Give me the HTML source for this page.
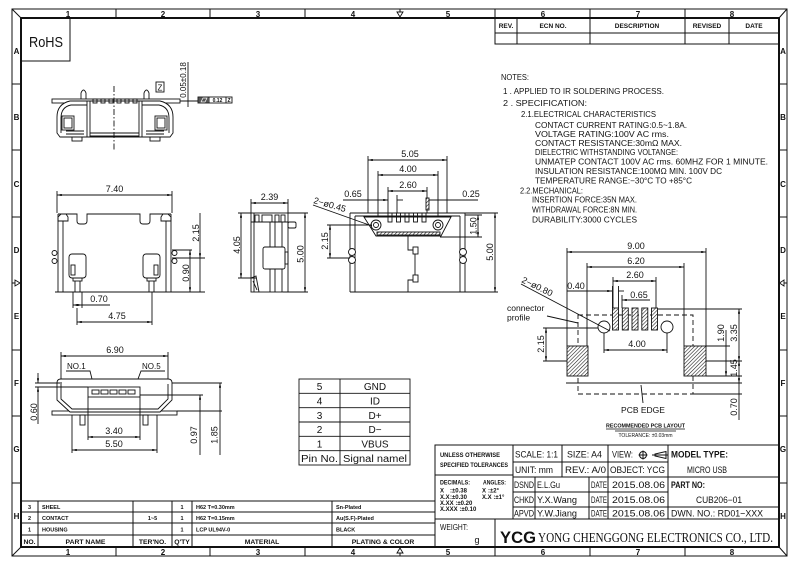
<!DOCTYPE html>
<html><head><meta charset="utf-8"><style>
html,body{margin:0;padding:0;background:#fff;}
svg{display:block;}
text{font-family:"Liberation Sans",sans-serif;fill:#111;}
.b{font-weight:bold;}
.m{font-family:"Liberation Mono",monospace;font-weight:bold;}
.s{font-family:"Liberation Serif",serif;}
</style></head><body>
<svg width="800" height="565" viewBox="0 0 800 565" xmlns="http://www.w3.org/2000/svg">
<defs>
<marker id="ar" viewBox="0 0 8 4" refX="8" refY="2" markerWidth="5" markerHeight="2.4" orient="auto-start-reverse" markerUnits="userSpaceOnUse"><path d="M0,0L8,2L0,4z" fill="#111"/></marker>
<pattern id="h" width="2.6" height="2.6" patternUnits="userSpaceOnUse" patternTransform="rotate(45)"><rect width="2.6" height="2.6" fill="#fff"/><line x1="0" y1="0" x2="0" y2="2.6" stroke="#111" stroke-width="1.1"/></pattern>
</defs>
<rect width="800" height="565" fill="#fff"/>

<!-- FRAME -->
<g fill="none" stroke="#111">
<rect x="12" y="9" width="775" height="547" stroke-width="1"/>
<rect x="21" y="18" width="758" height="529" stroke-width="2"/>
<path stroke-width="1" d="M12 9L21 18M787 9L779 18M12 556L21 547M787 556L779 547
M116 9V18M210 9V18M305 9V18M495 9V18M590 9V18M685 9V18
M116 547V556M210 547V556M305 547V556M495 547V556M590 547V556M685 547V556
M12 84H21M12 150H21M12 217H21M12 350H21M12 416H21M12 483H21
M779 84H787M779 150H787M779 217H787M779 350H787M779 416H787M779 483H787
M12 283H15M784 283H787M400 9V12M400 553V556"/>
<path stroke-width="0.9" d="M15 280L20 283L15 286Z M784 280L779.5 283L784 286Z M397 12L400 17L403 12Z M397 553L400 548L403 553Z"/>
</g>
<g class="b" font-size="8" text-anchor="middle">
<text x="68" y="17">1</text><text x="163" y="17">2</text><text x="258" y="17">3</text><text x="353" y="17">4</text>
<text x="448" y="17">5</text><text x="543" y="17">6</text><text x="638" y="17">7</text><text x="732" y="17">8</text>
<text x="68" y="555">1</text><text x="163" y="555">2</text><text x="258" y="555">3</text><text x="353" y="555">4</text>
<text x="448" y="555">5</text><text x="543" y="555">6</text><text x="638" y="555">7</text><text x="732" y="555">8</text>
<text x="16.5" y="54">A</text><text x="16.5" y="120">B</text><text x="16.5" y="187">C</text><text x="16.5" y="253">D</text>
<text x="16.5" y="319">E</text><text x="16.5" y="386">F</text><text x="16.5" y="452">G</text><text x="16.5" y="519">H</text>
<text x="783" y="54">A</text><text x="783" y="120">B</text><text x="783" y="187">C</text><text x="783" y="253">D</text>
<text x="783" y="319">E</text><text x="783" y="386">F</text><text x="783" y="452">G</text><text x="783" y="519">H</text>
</g>

<!-- RoHS -->
<rect x="21" y="18" width="49" height="43" fill="none" stroke="#111" stroke-width="1"/>
<text x="29" y="47" font-size="15" textLength="34" lengthAdjust="spacingAndGlyphs">RoHS</text>

<!-- REVISION TABLE -->
<g fill="none" stroke="#111" stroke-width="1">
<rect x="495" y="18" width="284" height="26"/>
<path d="M495 33H779M517 18V44M590 18V44M685 18V44M729 18V44"/>
</g>
<g class="b" font-size="6.5" text-anchor="middle">
<text x="506" y="28">REV.</text><text x="553" y="28">ECN NO.</text><text x="637" y="28">DESCRIPTION</text>
<text x="707" y="28">REVISED</text><text x="754" y="28">DATE</text>
</g>

<!-- NOTES -->
<g font-size="8" lengthAdjust="spacingAndGlyphs">
<text x="501" y="80" textLength="28" lengthAdjust="spacingAndGlyphs">NOTES:</text>
<text x="503" y="94" textLength="161" lengthAdjust="spacingAndGlyphs">1 . APPLIED TO IR SOLDERING PROCESS.</text>
<text x="503" y="106" textLength="84" lengthAdjust="spacingAndGlyphs">2 . SPECIFICATION:</text>
<text x="521" y="117" textLength="135" lengthAdjust="spacingAndGlyphs">2.1.ELECTRICAL CHARACTERISTICS</text>
<text x="535" y="128" textLength="152" lengthAdjust="spacingAndGlyphs">CONTACT CURRENT RATING:0.5~1.8A.</text>
<text x="535" y="137" textLength="134" lengthAdjust="spacingAndGlyphs">VOLTAGE RATING:100V AC rms.</text>
<text x="535" y="146" textLength="147" lengthAdjust="spacingAndGlyphs">CONTACT RESISTANCE:30mΩ MAX.</text>
<text x="535" y="155" textLength="143" lengthAdjust="spacingAndGlyphs">DIELECTRIC WITHSTANDING VOLTANGE:</text>
<text x="535" y="164.5" textLength="233" lengthAdjust="spacingAndGlyphs">UNMATEP CONTACT 100V AC rms. 60MHZ FOR 1 MINUTE.</text>
<text x="535" y="174" textLength="187" lengthAdjust="spacingAndGlyphs">INSULATION RESISTANCE:100MΩ MIN. 100V DC</text>
<text x="535" y="183.5" textLength="157" lengthAdjust="spacingAndGlyphs">TEMPERATURE RANGE:−30°C TO +85°C</text>
<text x="520" y="193.5" textLength="63" lengthAdjust="spacingAndGlyphs">2.2.MECHANICAL:</text>
<text x="532" y="202.5" textLength="105" lengthAdjust="spacingAndGlyphs">INSERTION FORCE:35N MAX.</text>
<text x="532" y="212.5" textLength="105" lengthAdjust="spacingAndGlyphs">WITHDRAWAL FORCE:8N MIN.</text>
<text x="532" y="222.5" textLength="105" lengthAdjust="spacingAndGlyphs">DURABILITY:3000 CYCLES</text>
</g>

<!-- TOP-LEFT FRONT VIEW -->
<g fill="none" stroke="#111" stroke-width="0.9">
<rect x="52" y="99" width="128" height="4"/>
<path d="M180 101H198"/>
<path d="M60 137L57 133V117Q57 104 70 101H160Q173 104 173 117V133L170 137Z" fill="#fff"/>
<path d="M61 133V118Q61 107 71 105H87M142 105H159Q169 107 169 118V133"/>
<path d="M87 101V137M90 101V137M139 101V137M142 101V137M90 133H139M90 136H139"/>
<rect x="62" y="116" width="12" height="14"/><rect x="64" y="118" width="8" height="10"/>
<rect x="155" y="116" width="12" height="14"/><rect x="157" y="118" width="8" height="10"/>
<rect x="72" y="137" width="10" height="4"/><rect x="150" y="137" width="10" height="4"/>
<path d="M66 131H84M146 131H164M66 134H84M146 134H164"/>
<path d="M81 99V93Q83.5 87 86 93V99M144 99V93Q146.5 87 149 93V99"/>
<rect x="93" y="99" width="4" height="4"/><rect x="101" y="99" width="4" height="4"/><rect x="109" y="99" width="4" height="4"/>
<rect x="117" y="99" width="4" height="4"/><rect x="125" y="99" width="4" height="4"/><rect x="133" y="99" width="4" height="4"/>
<path d="M114 86V151" stroke-dasharray="6 2 1.5 2"/>
<rect x="156" y="82" width="8" height="10"/>
<path d="M188 62V107"/>
<rect x="198" y="97" width="34" height="6"/>
<path d="M209 97V103M226 97V103"/>
</g>
<rect x="198.5" y="97.5" width="10.5" height="5" fill="#555"/>
<path d="M201 102L203 98H207L205 102Z" fill="none" stroke="#fff" stroke-width="0.7"/>
<text x="160" y="90.5" font-size="8" text-anchor="middle">Z</text>
<text transform="translate(186 80) rotate(-90)" font-size="8" text-anchor="middle">0.05±0.18</text>
<text x="217.5" y="102" font-size="5" class="b" text-anchor="middle">0.12</text>
<text x="229" y="102" font-size="5" class="b" text-anchor="middle">Z</text>

<!-- FRONT VIEW 7.40 -->
<g fill="none" stroke="#111" stroke-width="0.9">
<path d="M57 191V213M172 191V213"/>
<path d="M57 195H172" marker-start="url(#ar)" marker-end="url(#ar)"/>
<path d="M58 214V292M63 221V292M166 221V292M171 214V292M55 292H175"/>
<path d="M58 214H77V221Q77 224 80 224H84Q87 224 87 221V214H140V221Q140 224 143 224H147Q150 224 150 221V214H171"/>
<path d="M58 217L61 214H66L68 217V221H58ZM161 217L163 214H168L171 217V221H161Z"/>
<circle cx="54.5" cy="253" r="2.5"/><circle cx="54.5" cy="261" r="2.5"/>
<circle cx="174.5" cy="253" r="2.5"/><circle cx="174.5" cy="261" r="2.5"/>
<rect x="69" y="254" width="17" height="24" rx="3"/><rect x="71" y="265" width="4" height="10"/>
<rect x="143" y="254" width="17" height="24" rx="3"/><rect x="154" y="265" width="4" height="10"/>
<rect x="73" y="278" width="9" height="3"/><rect x="147" y="278" width="9" height="3"/>
<path d="M75 281V292M80 281V292M149 281V292M154 281V292"/>
<path d="M73 292V308M82 292V308M77 308V325M152 292V325"/>
<path d="M73 305H110"/>
<path d="M73 305H82" marker-start="url(#ar)" marker-end="url(#ar)"/>
<path d="M77 322H152" marker-start="url(#ar)" marker-end="url(#ar)"/>
<path d="M172 258H205M172 250H192M175 292H205"/>
<path d="M200 213V258" marker-end="url(#ar)"/>
<path d="M200 258V292"/>
<path d="M190 250V292" marker-start="url(#ar)" marker-end="url(#ar)"/>
</g>
<g font-size="9" text-anchor="middle">
<text x="114.5" y="192">7.40</text>
<text x="99" y="302">0.70</text>
<text x="117" y="319">4.75</text>
<text transform="translate(199 233) rotate(-90)">2.15</text>
<text transform="translate(189 273) rotate(-90)">0.90</text>
</g>

<!-- SIDE VIEW -->
<g fill="none" stroke="#111" stroke-width="0.9">
<path d="M251 199V213M288 199V213"/>
<path d="M251 203H288" marker-start="url(#ar)" marker-end="url(#ar)"/>
<rect x="251" y="213" width="37" height="79"/>
<path d="M254 213V292M251 222H288"/>
<rect x="255" y="215" width="4" height="7"/><rect x="262" y="215" width="10" height="7"/><rect x="275" y="215" width="4" height="7"/><rect x="281" y="215" width="4" height="7"/>
<rect x="288" y="222" width="8" height="6" rx="1.5"/>
<path d="M270 222V292M275 222V292M282 222V292"/>
<rect x="263" y="247" width="22" height="22" rx="2" fill="#fff"/>
<rect x="285" y="252" width="3" height="12"/>
<path d="M251 278L256 276L259 292M253 281L257 290"/>
<path d="M238 213H251M238 278H256"/>
<path d="M241 213V278" marker-start="url(#ar)" marker-end="url(#ar)"/>
<path d="M288 213H308M283 292H308"/>
<path d="M305 213V292" marker-start="url(#ar)" marker-end="url(#ar)"/>
</g>
<g font-size="9" text-anchor="middle">
<text x="269.5" y="200">2.39</text>
<text transform="translate(240 245) rotate(-90)">4.05</text>
<text transform="translate(303.5 254) rotate(-90)">5.00</text>
</g>

<!-- TOP VIEW CONNECTOR -->
<g fill="none" stroke="#111" stroke-width="0.9">
<path d="M368 156V213M447 156V213M378 171V220M438 171V220M388 187V213M427 187V213M397 195V213"/>
<path d="M368 160H447" marker-start="url(#ar)" marker-end="url(#ar)"/>
<path d="M378 175H438" marker-start="url(#ar)" marker-end="url(#ar)"/>
<path d="M388 191H427" marker-start="url(#ar)" marker-end="url(#ar)"/>
<path d="M343 200H388" marker-end="url(#ar)"/>
<path d="M397 200H403"/>
<path d="M427 200H478"/>
<rect x="426" y="198" width="3" height="12" fill="url(#h)"/>
<path d="M350 213V292M355 216V292M460 216V292M465 213V292M350 213H465M355 216H460M350 292H465"/>
<path d="M364 217H451L441 236H376Z" fill="#fff"/>
<rect x="377" y="232" width="63" height="3" fill="url(#h)"/>
<rect x="388" y="213" width="4" height="9"/><rect x="396.5" y="213" width="4" height="9"/><rect x="405" y="213" width="4" height="9"/><rect x="413.5" y="213" width="4" height="9"/><rect x="422" y="213" width="4" height="9"/>
<circle cx="376" cy="225" r="5" fill="#fff"/><circle cx="376" cy="225" r="2.5"/>
<circle cx="438" cy="225" r="5" fill="#fff"/><circle cx="438" cy="225" r="2.5"/>
<path d="M408 236V250H413M415 254V275M413 280H408V292"/>
<rect x="413" y="247" width="5" height="7"/><rect x="413" y="275" width="5" height="7"/>
<circle cx="352" cy="252" r="3.5" fill="#fff"/><circle cx="352" cy="260" r="3.5" fill="#fff"/>
<circle cx="463" cy="252" r="3.5" fill="#fff"/><circle cx="463" cy="260" r="3.5" fill="#fff"/>
<path d="M313 205L372 226"/>
<path d="M327 225H372M327 258H350"/>
<path d="M330 225V258" marker-start="url(#ar)" marker-end="url(#ar)"/>
<path d="M465 215H482M440 237H482"/>
<path d="M478 215V237" marker-start="url(#ar)" marker-end="url(#ar)"/>
<path d="M465 213H498M465 292H498"/>
<path d="M495 213V292" marker-start="url(#ar)" marker-end="url(#ar)"/>
</g>
<g font-size="9" text-anchor="middle">
<text x="410" y="157">5.05</text>
<text x="408" y="172">4.00</text>
<text x="408" y="188">2.60</text>
<text x="353" y="197">0.65</text>
<text x="471" y="197">0.25</text>
<text transform="translate(313 203) rotate(16)" text-anchor="start">2−ø0.45</text>
<text transform="translate(328 241) rotate(-90)">2.15</text>
<text transform="translate(476.5 226) rotate(-90)">1.50</text>
<text transform="translate(493 252) rotate(-90)">5.00</text>
</g>

<!-- PCB LAYOUT -->
<g fill="none" stroke="#111" stroke-width="0.9">
<path d="M567 248V346M706 248V346M587 263V346M684 263V346M613 277V308M656 277V308"/>
<path d="M567 252H706" marker-start="url(#ar)" marker-end="url(#ar)"/>
<path d="M587 267H684" marker-start="url(#ar)" marker-end="url(#ar)"/>
<path d="M613 281H656" marker-start="url(#ar)" marker-end="url(#ar)"/>
<path d="M567 291H612" marker-end="url(#ar)"/>
<path d="M612.5 286V308M618.5 286V308M622 295V308"/>
<path d="M618.5 291H624"/>
<path d="M628 300H650"/>
<path d="M622 300H628" marker-start="url(#ar)"/>
<rect x="578" y="315" width="115" height="79" stroke-dasharray="5 3"/>
<rect x="567" y="346" width="21" height="30" fill="url(#h)"/>
<rect x="684" y="346" width="22" height="30" fill="url(#h)"/>
<rect x="612.5" y="308" width="6" height="22" fill="url(#h)"/>
<rect x="622.3" y="308" width="6" height="22" fill="url(#h)"/>
<rect x="632" y="308" width="6" height="22" fill="url(#h)"/>
<rect x="641.8" y="308" width="6" height="22" fill="url(#h)"/>
<rect x="651.5" y="308" width="6" height="22" fill="url(#h)"/>
<circle cx="604" cy="327" r="6" fill="#fff"/>
<circle cx="667" cy="327" r="6" fill="#fff"/>
<path d="M521 284L610 331"/>
<path d="M547 316L578 323"/>
<path d="M604 333V353M667 333V353"/>
<path d="M604 350H667" marker-start="url(#ar)" marker-end="url(#ar)"/>
<path d="M543 328H598M543 361H567"/>
<path d="M546 328V361" marker-start="url(#ar)" marker-end="url(#ar)"/>
<path d="M566 383H742"/>
<path d="M658 309H742M706 346H730M706 361H742M706 376H742M693 394H742"/>
<path d="M726 330V376" marker-end="url(#ar)"/>
<path d="M739 309V361" marker-start="url(#ar)" marker-end="url(#ar)"/>
<path d="M739 361V383" marker-start="url(#ar)" marker-end="url(#ar)"/>
<path d="M739 383V420"/>
<path d="M643 403L641 385"/>
<path d="M606 429H685M615 431H676" stroke-width="0.7"/>
</g>
<g font-size="9" text-anchor="middle">
<text x="636" y="249">9.00</text>
<text x="636" y="264">6.20</text>
<text x="635" y="278">2.60</text>
<text x="576" y="289">0.40</text>
<text x="639" y="298">0.65</text>
<text x="637" y="347">4.00</text>
<text transform="translate(521 282) rotate(26)" text-anchor="start">2−ø0.80</text>
<text transform="translate(544 344) rotate(-90)">2.15</text>
<text transform="translate(724 333) rotate(-90)">1.90</text>
<text transform="translate(737 333) rotate(-90)">3.35</text>
<text transform="translate(737 368) rotate(-90)">1.45</text>
<text transform="translate(737 407) rotate(-90)">0.70</text>
<text x="643" y="413" font-size="8.5">PCB EDGE</text>
</g>
<text x="507" y="311" font-size="8.5">connector</text>
<text x="507" y="320.5" font-size="8.5">profile</text>
<text x="645.5" y="427.5" font-size="5.2" class="b" text-anchor="middle" textLength="79" lengthAdjust="spacingAndGlyphs">RECOMMENDED PCB LAYOUT</text>
<text x="645.5" y="437" font-size="5" text-anchor="middle">TOLERANCE: ±0.03mm</text>

<!-- BOTTOM VIEW -->
<g fill="none" stroke="#111" stroke-width="0.9">
<path d="M61 352V382M168 352V382"/>
<path d="M61 356H168" marker-start="url(#ar)" marker-end="url(#ar)"/>
<path d="M66 371H90L94 387M165 371H141L135 387"/>
<rect x="52" y="411" width="125" height="4"/>
<path d="M57 383Q57 379 61 379H168Q172 379 172 383V400L160 412H70L57 400Z" fill="#fff"/>
<path d="M61 384V399L72 409H158L168 399V384"/>
<rect x="88" y="387" width="52" height="10"/>
<rect x="92" y="390" width="7" height="4"/><rect x="101" y="390" width="7" height="4"/><rect x="110" y="390" width="7" height="4"/><rect x="119" y="390" width="7" height="4"/><rect x="128" y="390" width="7" height="4"/>
<rect x="80" y="415" width="5" height="10"/><rect x="143" y="415" width="5" height="10"/>
<path d="M35 383H62M35 387H88M140 395H203M172 383H222M177 411H222"/>
<path d="M38 373V383" marker-end="url(#ar)"/>
<path d="M38 387V424" marker-start="url(#ar)"/>
<path d="M88 397V440M140 397V440M72 415V453M157 415V453"/>
<path d="M88 437H140" marker-start="url(#ar)" marker-end="url(#ar)"/>
<path d="M72 450H157" marker-start="url(#ar)" marker-end="url(#ar)"/>
<path d="M200 395V455" marker-start="url(#ar)"/>
<path d="M220 383V455" marker-start="url(#ar)"/>
</g>
<g font-size="9" text-anchor="middle">
<text x="115" y="353">6.90</text>
<text x="114" y="434">3.40</text>
<text x="114" y="447">5.50</text>
<text transform="translate(37 412) rotate(-90)">0.60</text>
<text transform="translate(197 435) rotate(-90)">0.97</text>
<text transform="translate(217.5 435) rotate(-90)">1.85</text>
</g>
<text x="67" y="369" font-size="8">NO.1</text>
<text x="142" y="369" font-size="8">NO.5</text>

<!-- PIN TABLE -->
<g fill="none" stroke="#111" stroke-width="0.9">
<rect x="299" y="379" width="111" height="86"/>
<path d="M340 379V465M299 393.3H410M299 407.7H410M299 422H410M299 436.3H410M299 450.7H410"/>
</g>
<g font-size="10" text-anchor="middle">
<text x="319.5" y="390">5</text><text x="375" y="390">GND</text>
<text x="319.5" y="404.5">4</text><text x="375" y="404.5">ID</text>
<text x="319.5" y="418.8">3</text><text x="375" y="418.8">D+</text>
<text x="319.5" y="433">2</text><text x="375" y="433">D−</text>
<text x="319.5" y="447.5">1</text><text x="375" y="447.5">VBUS</text>
<text x="319.5" y="462" textLength="37" lengthAdjust="spacingAndGlyphs">Pin No.</text>
<text x="375" y="462" textLength="64" lengthAdjust="spacingAndGlyphs">Signal namel</text>
</g>

<!-- PARTS TABLE -->
<g fill="none" stroke="#111" stroke-width="1">
<path d="M21 501H435M21 512H435M21 523H435M21 535H435"/>
<path d="M38 501V547M133 501V547M172 501V547M192 501V547M332 501V547"/>
</g>
<g class="b" font-size="5.5">
<text x="29.5" y="509" text-anchor="middle">3</text><text x="42" y="509">SHEEL</text><text x="182" y="509" text-anchor="middle">1</text><text x="196" y="509">H62 T=0.30mm</text><text x="336" y="509">Sn-Plated</text>
<text x="29.5" y="520" text-anchor="middle">2</text><text x="42" y="520">CONTACT</text><text x="152.5" y="520" text-anchor="middle">1~5</text><text x="182" y="520" text-anchor="middle">1</text><text x="196" y="520">H62 T=0.15mm</text><text x="336" y="520">Au(S.F)-Plated</text>
<text x="29.5" y="531.5" text-anchor="middle">1</text><text x="42" y="531.5">HOUSING</text><text x="182" y="531.5" text-anchor="middle">1</text><text x="196" y="531.5">LCP UL94V-0</text><text x="336" y="531.5">BLACK</text>
</g>
<g class="b" font-size="6.8" text-anchor="middle">
<text x="29.5" y="544">NO.</text><text x="85.5" y="544">PART NAME</text><text x="152.5" y="544">TER'NO.</text>
<text x="182" y="544">Q'TY</text><text x="262" y="544">MATERIAL</text><text x="383" y="544">PLATING &amp; COLOR</text>
</g>

<!-- TITLE BLOCK -->
<g fill="none" stroke="#111" stroke-width="1">
<rect x="435" y="445" width="344" height="102"/>
<path d="M513 445V519M668 445V519M608 445V519M562 445V477M535 477V519M589 477V519
M513 462H668M513 477H779M513 492H668M513 507H779M435 475H513M435 519H779M495 519V547"/>
</g>
<g class="b" font-size="6.5">
<text x="440" y="457" textLength="60" lengthAdjust="spacingAndGlyphs">UNLESS OTHERWISE</text>
<text x="440" y="467" textLength="68" lengthAdjust="spacingAndGlyphs">SPECIFIED TOLERANCES</text>
<text x="440" y="484.5" font-size="6" textLength="30" lengthAdjust="spacingAndGlyphs">DECIMALS:</text>
<text x="483" y="484.5" font-size="6" textLength="23" lengthAdjust="spacingAndGlyphs">ANGLES:</text>
</g>
<g class="b" font-size="6">
<text x="440" y="492.5">X</text><text x="450" y="492.5">:±0.38</text><text x="482" y="492.5">X</text><text x="488" y="492.5">:±2°</text>
<text x="440" y="499">X.X</text><text x="450" y="499">:±0.30</text><text x="482" y="499">X.X :±1°</text>
<text x="440" y="505">X.XX :±0.20</text>
<text x="440" y="511">X.XXX :±0.10</text>
</g>
<text x="440" y="530" font-size="8" textLength="28" lengthAdjust="spacingAndGlyphs">WEIGHT:</text>
<text x="477" y="543" font-size="9" text-anchor="middle">g</text>
<g font-size="9.5">
<text x="515" y="457.5" textLength="43" lengthAdjust="spacingAndGlyphs">SCALE: 1:1</text>
<text x="567" y="457.5" textLength="35" lengthAdjust="spacingAndGlyphs">SIZE: A4</text>
<text x="612" y="457.5" textLength="21" lengthAdjust="spacingAndGlyphs">VIEW:</text>
<text x="515" y="473" textLength="38" lengthAdjust="spacingAndGlyphs">UNIT: mm</text>
<text x="565" y="473" textLength="41" lengthAdjust="spacingAndGlyphs">REV.: A/0</text>
<text x="610" y="473" textLength="55" lengthAdjust="spacingAndGlyphs">OBJECT: YCG</text>
<text x="514" y="488" textLength="20" lengthAdjust="spacingAndGlyphs">DSND</text>
<text x="537" y="488" textLength="23" lengthAdjust="spacingAndGlyphs">E.L.Gu</text>
<text x="591" y="488" textLength="16" lengthAdjust="spacingAndGlyphs">DATE</text>
<text x="612" y="488" textLength="53" lengthAdjust="spacingAndGlyphs">2015.08.06</text>
<text x="514" y="503" textLength="20" lengthAdjust="spacingAndGlyphs">CHKD</text>
<text x="537" y="503" textLength="40" lengthAdjust="spacingAndGlyphs">Y.X.Wang</text>
<text x="591" y="503" textLength="16" lengthAdjust="spacingAndGlyphs">DATE</text>
<text x="612" y="503" textLength="53" lengthAdjust="spacingAndGlyphs">2015.08.06</text>
<text x="514" y="516.5" textLength="20" lengthAdjust="spacingAndGlyphs">APVD</text>
<text x="537" y="516.5" textLength="40" lengthAdjust="spacingAndGlyphs">Y.W.Jiang</text>
<text x="591" y="516.5" textLength="16" lengthAdjust="spacingAndGlyphs">DATE</text>
<text x="612" y="516.5" textLength="53" lengthAdjust="spacingAndGlyphs">2015.08.06</text>
<text x="671" y="516.5" textLength="92" lengthAdjust="spacingAndGlyphs">DWN. NO.: RD01−XXX</text>
</g>
<g fill="none" stroke="#111" stroke-width="1">
<circle cx="643" cy="455" r="3.5"/><path d="M638.5 455H647.5M643 450.5V459.5"/>
<path d="M666 451.5L655 454V456L666 458.5ZM652 455H668"/>
</g>
<g class="m">
<text x="671" y="457.5" font-size="9.5" textLength="57" lengthAdjust="spacingAndGlyphs">MODEL TYPE:</text>
<text x="671" y="488" font-size="9.5" textLength="34" lengthAdjust="spacingAndGlyphs">PART NO:</text>
</g>
<g font-family="Liberation Mono, monospace" font-size="9">
<text x="687" y="473" textLength="40" lengthAdjust="spacingAndGlyphs">MICRO USB</text>
<text x="696" y="503" textLength="46" lengthAdjust="spacingAndGlyphs">CUB206−01</text>
</g>
<text x="500" y="543" font-size="17" font-weight="bold" textLength="36" lengthAdjust="spacingAndGlyphs">YCG</text>
<text x="538" y="542" class="s" font-size="14" textLength="235" lengthAdjust="spacingAndGlyphs">YONG CHENGGONG ELECTRONICS CO., LTD.</text>
</svg>
</body></html>
